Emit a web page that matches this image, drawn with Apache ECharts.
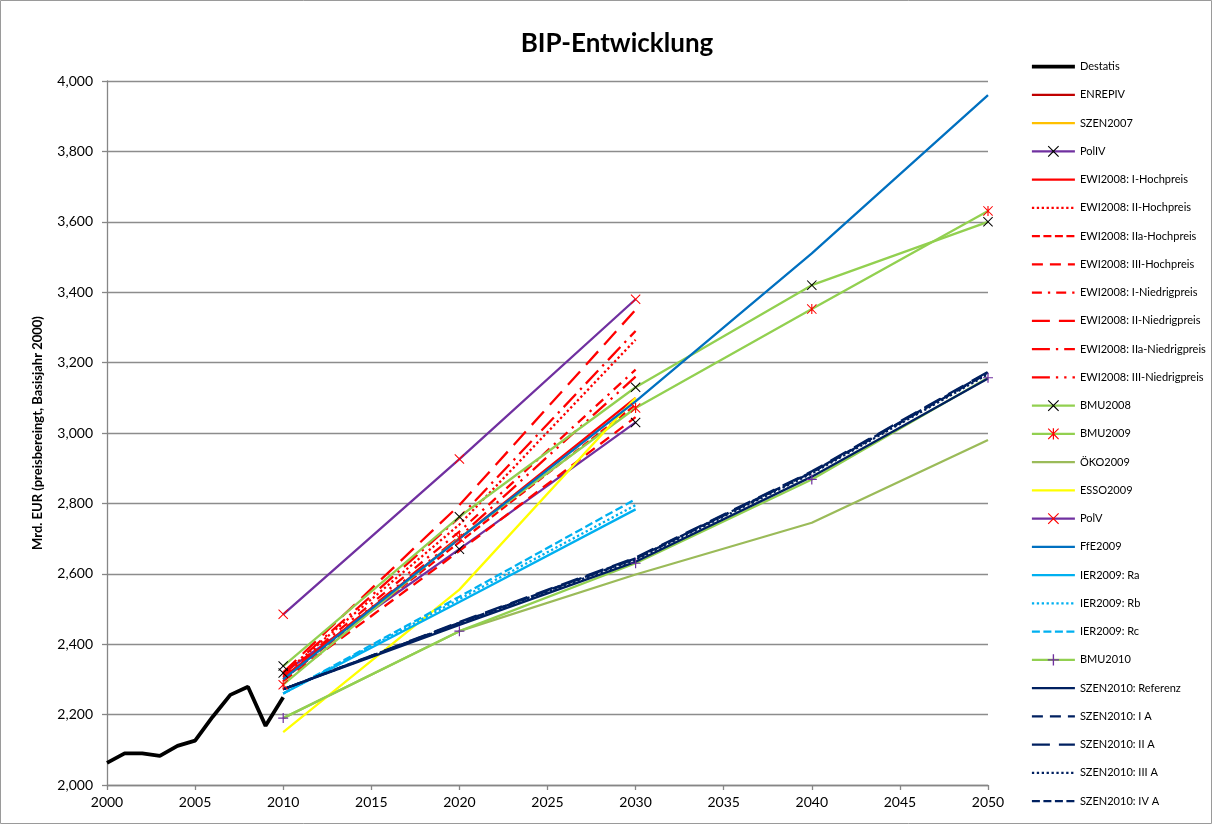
<!DOCTYPE html>
<html>
<head>
<meta charset="utf-8">
<script src="https://cdn.jsdelivr.net/npm/echarts@6/dist/echarts.min.js"></script>
<style>html,body{margin:0;padding:0;background:#fff;}#c{width:1212px;height:824px;}</style>
</head>
<body>
<div id="c"></div>
<script>
// ---- data ----
const histYears = [2000,2001,2002,2003,2004,2005,2006,2007,2008,2009,2010];
const destatis  = [2063,2090,2090,2083,2111,2126,2194,2256,2279,2168,2249];
const yrs3 = [2010,2020,2030];
const yrs5 = [2010,2020,2030,2040,2050];

const enrepiv = [];            // not visible in the reference plot
const szen2007 = [];           // not visible in the reference plot
const polIV   = [2318,2670,3030];
const ewiIH   = [2305,2700,3100];
const ewiIIH  = [2315,2740,3265];
const ewiIIaH = [2300,2690,3080];
const ewiIIIH = [2295,2665,3045];
const ewiIN   = [2310,2720,3180];
const ewiIIN  = [2320,2795,3350];
const ewiIIaN = [2315,2760,3290];
const ewiIIIN = [2305,2705,3160];
const bmu2008 = [2338,2762,3130,3420,3600];
const bmu2009 = [2285,2702,3071,3352,3631];
const oeko2009 = [2190,2437,2598,2745,2980];
const esso2009 = [2150,2555,3100];
const polV    = [2485,2926,3380];
const ffe2009 = [2300,2700,3090,3510,3960];
const ierRa   = [2260,2520,2783];
const ierRb   = [2260,2528,2795];
const ierRc   = [2260,2535,2812];
const bmu2010 = [2190,2437,2630,2868,3157];
const szenRef = [2272,2455,2634,2876,3155];
const szenIA  = [2272,2461,2643,2888,3170];
const szenIIA = [2272,2463,2646,2891,3174];
const szenIIIA= [2272,2459,2640,2885,3167];
const szenIVA = [2272,2461,2644,2889,3172];

const xTicks = {min:2000, max:2050, step:5};
const yTicks = {min:2000, max:4000, step:200};

// ---- marker shapes ----
const XPATH = 'path://M0,0.7L0.7,0L5,4.3L9.3,0L10,0.7L5.7,5L10,9.3L9.3,10L5,5.7L0.7,10L0,9.3L4.3,5Z';
const STAR  = 'path://M0,0.7L0.7,0L5,4.3L9.3,0L10,0.7L5.7,5L10,9.3L9.3,10L5,5.7L0.7,10L0,9.3L4.3,5Z M4.45,0L5.55,0L5.55,10L4.45,10Z';
const PLUS  = 'path://M4.4,0H5.6V4.4H10V5.6H5.6V10H4.4V5.6H0V4.4H4.4Z';

function pairs(xs, ys){ return ys.map((v,i)=>[xs[i], v]); }
function ln(name, xs, ys, color, width, dash, sym, symColor, symSize){
  const s = {
    name, type:'line', data: pairs(xs, ys),
    lineStyle:{color, width, type: dash || 'solid', cap:'butt'},
    itemStyle:{color: sym ? symColor : color, borderWidth:0},
    emphasis:{disabled:true},
    smooth:false
  };
  if (sym){ s.symbol = sym; s.symbolSize = symSize || 10; s.showSymbol = true; }
  else { s.symbol = 'none'; s.showSymbol = false; }
  return s;
}

const W = 2.3;
const RED = '#FF0000', GREEN = '#92D050', NAVY = '#002060', CYAN = '#00B0F0', PURPLE = '#7030A0';
const DOT = [2.3,2.6], SDASH = [8,3.5], DASH = [11,7], DASHDOT = [10,6,2.3,6], LDASH = [18,9], LDASHDOT = [18,6,2.3,6], LDASHDOTDOT = [18,6,2.3,6,2.3,6];

const series = [
  ln('Destatis', histYears, destatis, '#000000', 3.8),
  ln('ENREPIV', yrs3, enrepiv, '#C00000', W),
  ln('SZEN2007', yrs3, szen2007, '#FFC000', W),
  ln('PolIV', yrs3, polIV, PURPLE, W, null, XPATH, '#000000', 10),
  ln('EWI2008: I-Hochpreis', yrs3, ewiIH, RED, W),
  ln('EWI2008: II-Hochpreis', yrs3, ewiIIH, RED, W, DOT),
  ln('EWI2008: IIa-Hochpreis', yrs3, ewiIIaH, RED, W, SDASH),
  ln('EWI2008: III-Hochpreis', yrs3, ewiIIIH, RED, W, DASH),
  ln('EWI2008: I-Niedrigpreis', yrs3, ewiIN, RED, W, DASHDOT),
  ln('EWI2008: II-Niedrigpreis', yrs3, ewiIIN, RED, W, LDASH),
  ln('EWI2008: IIa-Niedrigpreis', yrs3, ewiIIaN, RED, W, LDASHDOT),
  ln('EWI2008: III-Niedrigpreis', yrs3, ewiIIIN, RED, W, LDASHDOTDOT),
  ln('BMU2008', yrs5, bmu2008, GREEN, W, null, XPATH, '#000000', 10),
  ln('BMU2009', yrs5, bmu2009, GREEN, W, null, STAR, '#FF0000', 10),
  ln('ÖKO2009', yrs5, oeko2009, '#9BBB59', W),
  ln('ESSO2009', yrs3, esso2009, '#FFFF00', W),
  ln('PolV', yrs3, polV, PURPLE, W, null, XPATH, '#FF0000', 10),
  ln('FfE2009', yrs5, ffe2009, '#0070C0', W),
  ln('IER2009: Ra', yrs3, ierRa, CYAN, W),
  ln('IER2009: Rb', yrs3, ierRb, CYAN, W, DOT),
  ln('IER2009: Rc', yrs3, ierRc, CYAN, W, SDASH),
  ln('BMU2010', yrs5, bmu2010, GREEN, W, null, PLUS, PURPLE, 10),
  ln('SZEN2010: Referenz', yrs5, szenRef, NAVY, W),
  ln('SZEN2010: I A', yrs5, szenIA, NAVY, W, DASH),
  ln('SZEN2010: II A', yrs5, szenIIA, NAVY, W, LDASH),
  ln('SZEN2010: III A', yrs5, szenIIIA, NAVY, W, DOT),
  ln('SZEN2010: IV A', yrs5, szenIVA, NAVY, W, SDASH)
];

const legendData = series.map(s => s.symbol === 'none'
  ? {name:s.name, itemStyle:{opacity:0}}
  : {name:s.name});

const FONT = 'Lato, "Open Sans", sans-serif';
const chart = echarts.init(document.getElementById('c'), null, {renderer:'canvas'});
chart.setOption({
  animation:false,
  backgroundColor:'#ffffff',
  textStyle:{fontFamily:FONT},
  title:{
    text:'BIP-Entwicklung', left:612, top:26, textAlign:'center',
    textStyle:{fontFamily:FONT, fontSize:26, fontWeight:'bold', color:'#000'}
  },
  graphic:[{type:'rect', shape:{x:0.5,y:0.5,width:1211,height:823}, style:{fill:'none', stroke:'#9a9a9a', lineWidth:1}, silent:true}],
  grid:{left:107, right:224, top:81, bottom:39, containLabel:false},
  legend:{
    orient:'vertical', left:1025, top:56,
    itemWidth:43, itemHeight:14, itemGap:17.05,
    lineStyle:{width:'inherit'},
    itemStyle:{borderWidth:0},
    textStyle:{fontFamily:FONT, fontSize:11, color:'#000'},
    data: legendData
  },
  xAxis:{
    type:'value', min:xTicks.min, max:xTicks.max, interval:xTicks.step,
    axisLine:{show:true, lineStyle:{color:'#868686', width:1.3}},
    axisTick:{show:true, length:5, lineStyle:{color:'#868686', width:1.3}},
    axisLabel:{formatter:v=>String(v), fontSize:14, color:'#000', margin:10, fontFamily:FONT},
    splitLine:{show:false}
  },
  yAxis:{
    type:'value', min:yTicks.min, max:yTicks.max, interval:yTicks.step,
    name:'Mrd. EUR (preisbereingt, Basisjahr 2000)', nameLocation:'middle', nameRotate:90, nameGap:63,
    nameTextStyle:{fontFamily:FONT, fontSize:13, fontWeight:'bold', color:'#000'},
    axisLine:{show:true, lineStyle:{color:'#868686', width:1.3}},
    axisTick:{show:true, length:5, lineStyle:{color:'#868686', width:1.3}},
    axisLabel:{formatter:v=>v.toLocaleString('en-US'), fontSize:14, color:'#000', margin:14, fontFamily:FONT},
    splitLine:{show:true, lineStyle:{color:'#8c8c8c', width:1.3}}
  },
  series
});
</script>
</body>
</html>
